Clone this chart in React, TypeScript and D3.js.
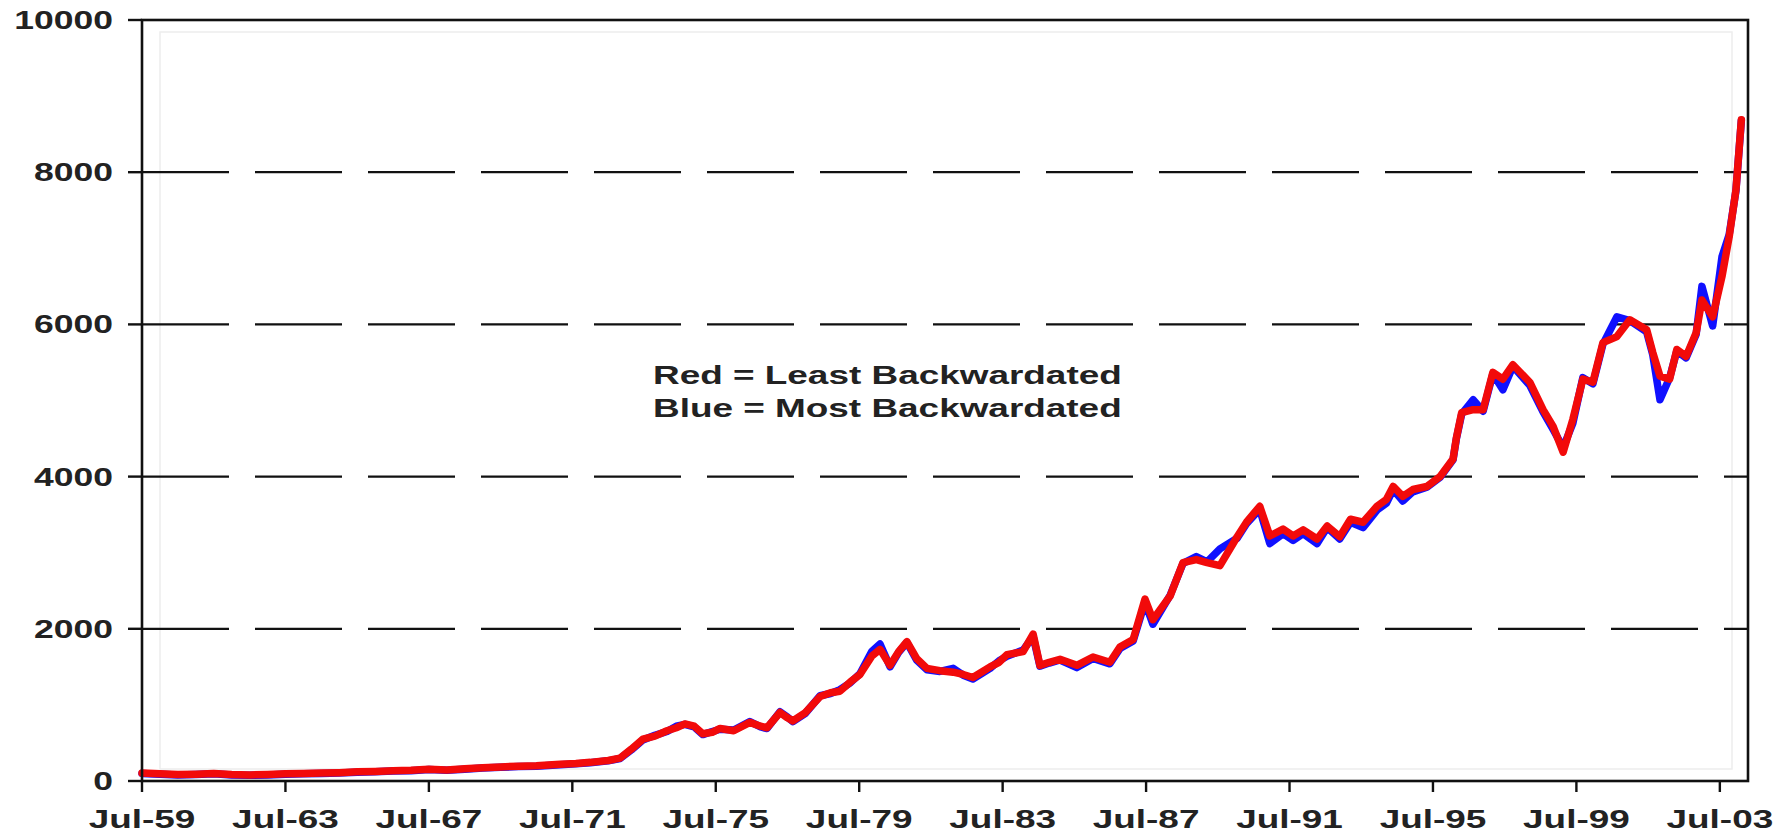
import React from "react";
import * as d3 from "d3";

// ---- data (decimal years, index values) ----
const dates = [
  1959.5, 1960.0, 1960.5, 1961.0, 1961.5, 1962.0, 1962.5, 1963.0, 1963.5, 1964.0,
  1964.5, 1965.0, 1965.5, 1966.0, 1966.5, 1967.0, 1967.5, 1968.0, 1968.5, 1969.0,
  1969.5, 1970.0, 1970.5, 1971.16, 1971.6, 1972.0, 1972.5, 1972.83, 1973.15, 1973.47,
  1973.8, 1974.14, 1974.4, 1974.64, 1974.9, 1975.14, 1975.4, 1975.62, 1976.0, 1976.45,
  1976.75, 1976.93, 1977.29, 1977.5, 1977.65, 1978.0, 1978.41, 1978.7, 1978.96, 1979.25,
  1979.52, 1979.85, 1980.08, 1980.36, 1980.6, 1980.83, 1981.1, 1981.39, 1981.75, 1982.12,
  1982.4, 1982.67, 1983.15, 1983.4, 1983.62, 1984.07, 1984.35, 1984.54, 1984.8, 1985.1,
  1985.57, 1986.02, 1986.49, 1986.77, 1987.14, 1987.47, 1987.69, 1988.17, 1988.53, 1988.9,
  1989.2, 1989.56, 1990.04, 1990.3, 1990.67, 1990.95, 1991.32, 1991.6, 1991.88, 1992.27,
  1992.55, 1992.9, 1993.2, 1993.55, 1993.94, 1994.2, 1994.39, 1994.66, 1994.94, 1995.33,
  1995.7, 1996.06, 1996.15, 1996.3, 1996.62, 1996.9, 1997.17, 1997.45, 1997.73, 1998.2,
  1998.57, 1998.85, 1999.13, 1999.4, 1999.68, 1999.96, 2000.24, 2000.63, 2000.99, 2001.46,
  2001.63, 2001.83, 2002.1, 2002.3, 2002.56, 2002.84, 2003.0, 2003.3, 2003.56, 2003.76,
  2003.95, 2004.1,
];

const redValues = [
  105, 95, 85, 90, 100, 85, 80, 85, 95, 100,
  105, 110, 120, 125, 135, 140, 155, 145, 160, 175,
  185, 195, 200, 220, 230, 245, 270, 300, 420, 550,
  590, 660, 700, 750, 720, 620, 640, 690, 660, 770,
  720, 700, 900, 830, 790, 900, 1110, 1160, 1180, 1300,
  1400, 1640, 1730, 1520, 1700, 1830, 1610, 1480, 1450, 1430,
  1400, 1360, 1500, 1560, 1660, 1700, 1930, 1520, 1560, 1600,
  1520, 1630, 1560, 1760, 1860, 2390, 2120, 2430, 2870, 2910,
  2870, 2830, 3210, 3400, 3610, 3220, 3310, 3220, 3300, 3180,
  3350, 3210, 3440, 3400, 3610, 3700, 3870, 3740, 3830, 3870,
  4000, 4230, 4500, 4840, 4880, 4880, 5370, 5280, 5470, 5240,
  4880, 4660, 4320, 4750, 5280, 5240, 5760, 5840, 6060, 5930,
  5630, 5320, 5280, 5670, 5580, 5890, 6320, 6100, 6630, 7150,
  7770, 8690,
];

const blueValues = [
  100, 90, 80, 85, 95, 80, 75, 80, 90, 95,
  100, 105, 115, 120, 130, 135, 150, 140, 155, 170,
  180, 190, 195, 215, 225, 240, 265, 295, 410, 540,
  600, 650, 720, 745, 710, 610, 650, 680, 670, 780,
  710, 690, 910, 840, 780, 890, 1120, 1150, 1200, 1290,
  1410, 1700, 1800, 1500, 1690, 1820, 1590, 1460, 1440, 1480,
  1390, 1340, 1480, 1580, 1640, 1720, 1900, 1510, 1550, 1590,
  1490, 1610, 1540, 1740, 1840, 2350, 2060, 2440, 2860, 2950,
  2880, 3050, 3190, 3380, 3570, 3120, 3250, 3160, 3250, 3120,
  3330, 3180, 3400, 3330, 3560, 3650, 3830, 3680, 3800, 3860,
  3990, 4220, 4490, 4820, 5010, 4860, 5350, 5140, 5450, 5200,
  4850, 4620, 4380, 4700, 5300, 5220, 5740, 6100, 6050, 5900,
  5600, 5010, 5300, 5650, 5560, 5870, 6500, 5980, 6890, 7180,
  7760, 8680,
];

const yTicks = [0, 2000, 4000, 6000, 8000, 10000];
const xTickValues = [1959.5, 1963.5, 1967.5, 1971.5, 1975.5, 1979.5, 1983.5, 1987.5, 1991.5, 1995.5, 1999.5, 2003.5];
const xTickLabels = ["Jul-59", "Jul-63", "Jul-67", "Jul-71", "Jul-75", "Jul-79", "Jul-83", "Jul-87", "Jul-91", "Jul-95", "Jul-99", "Jul-03"];
const legendLines = ["Red = Least Backwardated", "Blue = Most Backwardated"];

const W = 1791;
const H = 834;
const left = 142;
const right = 1748;
const top = 20;
const bottom = 781;
const FONT = "'Liberation Sans', Arial, sans-serif";
const SX = 1.42;

export default function App() {
  const x = d3.scaleLinear().domain([1959.5, 1959.5 + (right - left) / 35.86]).range([left, right]);
  const y = d3.scaleLinear().domain([0, 10000]).range([bottom, top]);

  const line = d3
    .line<number>()
    .x((_, i) => x(dates[i]))
    .y((v) => y(v))
    .curve(d3.curveLinear);

  return (
    <svg
      width={W}
      height={H}
      style={{ position: "fixed", left: 0, top: 0, background: "#fff" }}
      fontFamily={FONT}
      fontWeight="bold"
    >
      <rect x={0} y={0} width={W} height={H} fill="#fff" />
      {/* faint inner frame */}
      <rect x={left + 18} y={top + 12} width={right - left - 34} height={bottom - top - 24} fill="none" stroke="#ededed" strokeWidth={1.5} />

      {/* dashed gridlines */}
      {yTicks
        .filter((t) => t > 0 && t < 10000)
        .map((t) => (
          <line key={"g" + t} x1={left} x2={right} y1={y(t)} y2={y(t)} stroke="#111" strokeWidth={2.2} strokeDasharray="87 26" />
        ))}

      {/* series */}
      <path d={line(blueValues) || ""} fill="none" stroke="#1010ff" strokeWidth={7.5} strokeLinejoin="round" strokeLinecap="round" />
      <path d={line(redValues) || ""} fill="none" stroke="#f20a0a" strokeWidth={7.5} strokeLinejoin="round" strokeLinecap="round" />

      {/* frame */}
      <rect x={left} y={top} width={right - left} height={bottom - top} fill="none" stroke="#111" strokeWidth={2.6} />

      {/* y ticks */}
      {yTicks.map((t) => (
        <g key={"y" + t}>
          <line x1={left - 14} x2={left} y1={y(t)} y2={y(t)} stroke="#111" strokeWidth={2.4} />
          <text transform={`translate(113,${y(t) + 9}) scale(${SX},1)`} textAnchor="end" fontSize={25} fill="#222">
            {t}
          </text>
        </g>
      ))}

      {/* x ticks */}
      {xTickValues.map((t, i) => (
        <g key={"x" + t}>
          <line x1={x(t)} x2={x(t)} y1={bottom} y2={bottom + 11} stroke="#111" strokeWidth={2.4} />
          <text transform={`translate(${x(t)},828) scale(${SX},1)`} textAnchor="middle" fontSize={26} fill="#222">
            {xTickLabels[i]}
          </text>
        </g>
      ))}

      {/* annotation */}
      {legendLines.map((s, i) => (
        <text key={s} transform={`translate(653,${384 + i * 33}) scale(${SX},1)`} fontSize={26} fill="#222">
          {s}
        </text>
      ))}
    </svg>
  );
}
